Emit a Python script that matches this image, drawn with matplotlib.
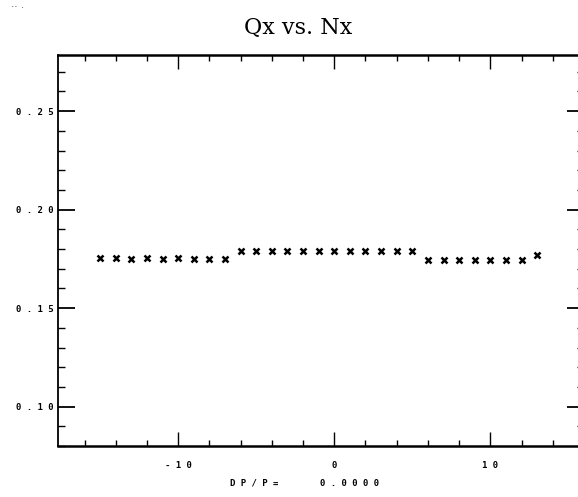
import matplotlib
matplotlib.use("Agg")
import matplotlib.pyplot as plt
from matplotlib.ticker import MultipleLocator, FixedLocator
import numpy as np

# dp/p offset and tune
nx = [-15, -14, -13, -12, -11, -10, -9, -8, -7,
      -6, -5, -4, -3, -2, -1, 0, 1, 2, 3, 4, 5,
      6, 7, 8, 9, 10, 11, 12, 13]
qx = [0.1752, 0.1752, 0.1751, 0.1752, 0.1751, 0.1752, 0.1751, 0.1751, 0.1750,
      0.1790, 0.1790, 0.1790, 0.1790, 0.1790, 0.1790, 0.1790, 0.1790, 0.1791, 0.1790, 0.1791, 0.1790,
      0.1745, 0.1745, 0.1745, 0.1745, 0.1744, 0.1744, 0.1744, 0.1768]

y_ticks = [0.10, 0.15, 0.20, 0.25]
y_labels = ["0.10", "0.15", "0.20", "0.25"]
x_ticks = [-10, 0, 10]
x_labels = ["-10", "0", "10"]
dpp = "0.0000"


def spaced(s):
    # the old plotter font is widely letter spaced
    return " ".join(s)


W, H = 578, 497
fig = plt.figure(figsize=(W / 100, H / 100), dpi=100)
fig.patch.set_facecolor("white")

# axes in pixel coords, right spine runs just off the page
left, right, top, bottom = 58, 584, 55, 446
ax = fig.add_axes([left / W, 1 - bottom / H, (right - left) / W, (bottom - top) / H])

ax.plot(nx, qx, linestyle="none", marker="x", color="black",
        markersize=5, markeredgewidth=1.8)

ax.set_xlim(-17.7, 16.0)
ax.set_ylim(0.08, 0.2785)

ax.xaxis.set_major_locator(FixedLocator(x_ticks))
ax.xaxis.set_minor_locator(MultipleLocator(2))
ax.yaxis.set_major_locator(FixedLocator(y_ticks))
ax.yaxis.set_minor_locator(MultipleLocator(0.01))

ax.set_xticklabels([spaced(s) for s in x_labels], family="DejaVu Sans Mono",
                   fontsize=6.5, fontweight="bold")
ax.set_yticklabels([spaced(s) for s in y_labels], family="DejaVu Sans Mono",
                   fontsize=6.5, fontweight="bold")

ax.tick_params(axis="both", which="both", direction="in", top=True, right=True,
               color="black")
ax.tick_params(axis="y", which="major", length=12, width=1.3, pad=3)
ax.tick_params(axis="y", which="minor", length=5, width=1.0)
ax.tick_params(axis="x", which="major", length=10, width=1.0, pad=11)
ax.tick_params(axis="x", which="minor", length=4, width=1.0)

for side in ["top", "bottom"]:
    ax.spines[side].set_linewidth(1.8)
for side in ["left", "right"]:
    ax.spines[side].set_linewidth(1.3)

fig.text(298 / W, 1 - 28 / H, "Qx vs. Nx", family="DejaVu Serif", fontsize=16,
         ha="center", va="center")

fig.text(230 / W, 1 - 483 / H, spaced("DP/P="), family="DejaVu Sans Mono",
         fontsize=6.5, fontweight="bold", ha="left", va="center")
fig.text(320 / W, 1 - 483 / H, spaced(dpp), family="DejaVu Sans Mono",
         fontsize=6.5, fontweight="bold", ha="left", va="center")

fig.text(11 / W, 1 - 6 / H, "-- .", family="DejaVu Sans Mono", fontsize=4,
         ha="left", va="center")

fig.savefig("out.png", dpi=100, facecolor="white")
